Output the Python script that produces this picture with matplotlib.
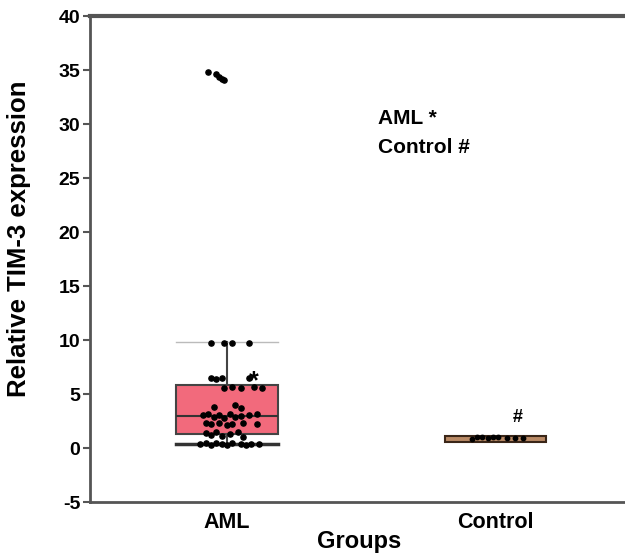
import matplotlib.pyplot as plt

plt.rcParams['font.family'] = ['Liberation Sans', 'DejaVu Sans']
plt.rcParams['font.weight'] = 'bold'
plt.rcParams['axes.unicode_minus'] = False

groups = ['AML', 'Control']

# box statistics
aml_stats = dict(q1=1.3, med=3.0, q3=5.8, whislo=0.4, whishi=9.8)
ctrl_stats = dict(q1=0.6, med=0.9, q3=1.15, whislo=0.6, whishi=1.15)

# individual AML points: x jitter (around group position) and value
aml_dx = [-0.07, -0.04, -0.03, -0.02, -0.01,
          -0.06, -0.01, 0.02, 0.08,
          -0.06, -0.04, -0.02, 0.08,
          -0.01, 0.02, 0.05, 0.10, 0.13,
          -0.05, 0.03, 0.05,
          -0.09, -0.07, -0.05, -0.03, -0.01, 0.01, 0.03, 0.05, 0.08, 0.11,
          -0.08, -0.06, -0.03, 0.00, 0.02, 0.06, 0.11,
          -0.08, -0.06, -0.04, -0.02, 0.01, 0.04, 0.06,
          -0.10, -0.08, -0.06, -0.04, -0.02, 0.00, 0.02, 0.05, 0.07, 0.09, 0.12]
aml_y = [34.8, 34.6, 34.4, 34.2, 34.1,
         9.75, 9.75, 9.75, 9.75,
         6.5, 6.4, 6.5, 6.5,
         5.6, 5.7, 5.6, 5.7, 5.6,
         3.8, 4.0, 3.7,
         3.1, 3.2, 2.9, 3.1, 2.8, 3.2, 2.9, 3.0, 3.1, 3.2,
         2.3, 2.2, 2.3, 2.1, 2.2, 2.3, 2.2,
         1.4, 1.2, 1.5, 1.1, 1.3, 1.5, 1.0,
         0.4, 0.5, 0.3, 0.5, 0.4, 0.3, 0.5, 0.4, 0.3, 0.4, 0.4]

ctrl_dx = [-0.09, -0.07, -0.05, -0.03, -0.01, 0.01, 0.04, 0.07, 0.10]
ctrl_y = [0.85, 1.0, 1.05, 0.95, 1.05, 1.0, 0.95, 0.9, 0.9]

fig = plt.figure(figsize=(6.25, 5.56), dpi=100)
ax = fig.add_axes([0.144, 0.097, 0.86, 0.874])

stats = [dict(aml_stats, label=groups[0]), dict(ctrl_stats, label=groups[1])]
bp = ax.bxp(stats, positions=[1, 2], widths=0.377, showfliers=False,
            patch_artist=True,
            boxprops=dict(linewidth=1.5, edgecolor='#444444'),
            medianprops=dict(color='#333333', linewidth=1.5),
            whiskerprops=dict(color='#444444', linewidth=1.5),
            capprops=dict(color='#444444', linewidth=1.5), capwidths=0.377)
bp['boxes'][0].set_facecolor('#f26a7c')
bp['boxes'][1].set_facecolor('#b98a66')
bp['boxes'][1].set_edgecolor('#3a2618')
bp['boxes'][1].set_linewidth(1.5)
bp['medians'][1].set_visible(False)
# upper AML cap is a thin grey line, lower one thick
bp['caps'][1].set_color('#bbbbbb')
bp['caps'][1].set_linewidth(1)
bp['caps'][0].set_linewidth(2.5)
bp['caps'][0].set_color('#333333')
for c in bp['caps'][2:] + bp['whiskers'][2:]:
    c.set_visible(False)

ax.scatter([1 + d for d in aml_dx], aml_y, s=14, color='black', zorder=5)
ax.scatter([2 + d for d in ctrl_dx], ctrl_y, s=10, color='black', zorder=5)

ax.text(1.1, 6.2, '*', fontsize=18, ha='center', va='center')
ax.text(2.08, 2.8, '#', fontsize=13, ha='center', va='center')
ax.text(1.56, 30.5, 'AML *', fontsize=15, ha='left', va='center')
ax.text(1.56, 27.8, 'Control #', fontsize=15, ha='left', va='center')

ax.set_xlim(0.49, 2.49)
ax.set_ylim(-5, 40)
ax.set_yticks(range(-5, 41, 5))
ax.set_xticks([1, 2])
ax.set_xticklabels(groups)
ax.tick_params(axis='x', length=0, labelsize=15.5, pad=7)
ax.tick_params(axis='y', length=5, width=1.5, color='#555555', labelsize=14, pad=2)
ax.set_xlabel('Groups', fontsize=17, fontweight='bold', labelpad=-2)
ax.set_ylabel('Relative TIM-3 expression', fontsize=18.5, fontweight='bold')
ax.yaxis.set_label_coords(-0.11, 0.541)

ax.spines['right'].set_visible(False)
ax.spines['top'].set_linewidth(3)
ax.spines['top'].set_color('#555555')
ax.spines['left'].set_linewidth(2)
ax.spines['left'].set_color('#555555')
ax.spines['bottom'].set_linewidth(2)
ax.spines['bottom'].set_color('#555555')

fig.savefig('out.png', dpi=100)
